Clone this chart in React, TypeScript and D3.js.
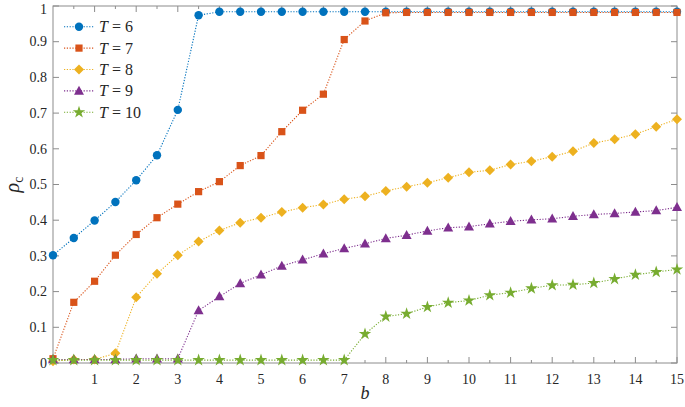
import React from "react";
import * as d3 from "d3";

const bValues = [0,0.5,1,1.5,2,2.5,3,3.5,4,4.5,5,5.5,6,6.5,7,7.5,8,8.5,9,9.5,10,10.5,11,11.5,12,12.5,13,13.5,14,14.5,15];
const seriesLabels = ["6", "7", "8", "9", "10"];
const t6 = [0.302,0.350,0.399,0.451,0.512,0.582,0.709,0.974,0.984,0.984,0.984,0.984,0.984,0.984,0.984,0.984,0.984,0.984,0.984,0.984,0.984,0.984,0.984,0.984,0.984,0.984,0.984,0.984,0.984,0.984,0.984];
const t7 = [0.012,0.170,0.229,0.302,0.360,0.407,0.445,0.480,0.508,0.553,0.581,0.648,0.708,0.753,0.906,0.958,0.981,0.982,0.982,0.982,0.982,0.982,0.982,0.982,0.982,0.982,0.982,0.982,0.982,0.982,0.982];
const t8 = [0.005,0.010,0.010,0.027,0.184,0.250,0.302,0.340,0.371,0.393,0.407,0.423,0.435,0.444,0.459,0.467,0.482,0.494,0.505,0.519,0.534,0.540,0.556,0.565,0.578,0.593,0.616,0.627,0.641,0.662,0.683];
const t9 = [0.010,0.010,0.010,0.010,0.012,0.012,0.012,0.147,0.186,0.223,0.247,0.272,0.289,0.306,0.321,0.334,0.349,0.358,0.370,0.379,0.382,0.390,0.397,0.401,0.404,0.411,0.416,0.419,0.423,0.427,0.436];
const t10 = [0.008,0.008,0.008,0.008,0.008,0.008,0.008,0.008,0.008,0.008,0.008,0.008,0.008,0.008,0.008,0.081,0.130,0.138,0.157,0.169,0.175,0.190,0.197,0.209,0.218,0.219,0.224,0.235,0.247,0.255,0.262];
const xTicks = [1,2,3,4,5,6,7,8,9,10,11,12,13,14,15];
const yTicks = [0,0.1,0.2,0.3,0.4,0.5,0.6,0.7,0.8,0.9,1];

const allSeries = [t6, t7, t8, t9, t10];
const colors = ["#0072BD", "#D95319", "#EDB120", "#7E2F8E", "#77AC30"];
const markers = ["circle", "square", "diamond", "triangle", "star"];

const W = 685, H = 407;
const M = { left: 53, right: 677, top: 6, bottom: 363 };

function Marker({ type, x, y, color }: { type: string; x: number; y: number; color: string }) {
  if (type === "circle") return <circle cx={x} cy={y} r={4.2} fill={color} />;
  if (type === "square") return <rect x={x - 3.6} y={y - 3.6} width={7.2} height={7.2} fill={color} />;
  if (type === "diamond") {
    const s = 5;
    return <path d={`M${x},${y - s}L${x + s},${y}L${x},${y + s}L${x - s},${y}Z`} fill={color} />;
  }
  if (type === "triangle") {
    const s = 5;
    return <path d={`M${x},${y - s * 1.05}L${x + s},${y + s * 0.75}L${x - s},${y + s * 0.75}Z`} fill={color} />;
  }
  const p = d3.symbol().type(d3.symbolStar).size(48)();
  return <path d={p || ""} transform={`translate(${x},${y})`} fill={color} />;
}

export default function App() {
  const x = d3.scaleLinear().domain([0, 15]).range([M.left, M.right]);
  const y = d3.scaleLinear().domain([0, 1]).range([M.bottom, M.top]);
  const line = d3.line<number>().x((_, i) => x(bValues[i])).y((d) => y(d));
  const minorX = d3.range(0.5, 15, 1);
  const axisColor = "#8c8c8c";
  const textColor = "#262626";
  const font = "Liberation Serif";

  return (
    <svg width={W} height={H} style={{ position: "absolute", left: 0, top: 0, background: "#fff" }}>
      <rect x={0} y={0} width={W} height={H} fill="#fff" />
      <rect x={M.left} y={M.top} width={M.right - M.left} height={M.bottom - M.top} fill="none" stroke={axisColor} strokeWidth={1} />
      {xTicks.map((t) => (
        <g key={"xt" + t}>
          <line x1={x(t)} x2={x(t)} y1={M.bottom} y2={M.bottom - 6} stroke={axisColor} />
          <line x1={x(t)} x2={x(t)} y1={M.top} y2={M.top + 6} stroke={axisColor} />
          <text x={x(t)} y={M.bottom + 21} textAnchor="middle" style={{ fontFamily: font }} fontSize={14} fill={textColor}>{t}</text>
        </g>
      ))}
      {minorX.map((t) => (
        <g key={"xm" + t}>
          <line x1={x(t)} x2={x(t)} y1={M.bottom} y2={M.bottom - 3} stroke={axisColor} />
          <line x1={x(t)} x2={x(t)} y1={M.top} y2={M.top + 3} stroke={axisColor} />
        </g>
      ))}
      {yTicks.map((t) => (
        <g key={"yt" + t}>
          <line x1={M.left} x2={M.left + 6} y1={y(t)} y2={y(t)} stroke={axisColor} />
          <line x1={M.right} x2={M.right - 6} y1={y(t)} y2={y(t)} stroke={axisColor} />
          <text x={M.left - 6} y={Math.max(y(t) + 4.7, 13.5)} textAnchor="end" style={{ fontFamily: font }} fontSize={14} fill={textColor}>{t}</text>
        </g>
      ))}
      {allSeries.map((s, si) => (
        <g key={"s" + si}>
          <path d={line(s) || ""} fill="none" stroke={colors[si]} strokeWidth={1.1} strokeDasharray="1.2,1.6" />
          {s.map((v, i) => (
            <Marker key={i} type={markers[si]} x={x(bValues[i])} y={y(v)} color={colors[si]} />
          ))}
        </g>
      ))}
      {seriesLabels.map((lab, i) => {
        const ly = 26.7 + i * 21.4;
        return (
          <g key={"lg" + i}>
            <line x1={64} x2={94} y1={ly} y2={ly} stroke={colors[i]} strokeWidth={1.1} strokeDasharray="1.2,1.6" />
            <Marker type={markers[i]} x={79} y={ly} color={colors[i]} />
            <text x={99} y={ly + 5.5} style={{ fontFamily: font }} fontSize={16} fill={textColor}>
              <tspan fontStyle="italic">T</tspan>
              <tspan> = {lab}</tspan>
            </text>
          </g>
        );
      })}
      <text x={(M.left + M.right) / 2} y={399} textAnchor="middle" style={{ fontFamily: font }} fontSize={18} fontStyle="italic" fill={textColor}>b</text>
      <text transform={`translate(19,${(M.top + M.bottom) / 2}) rotate(-90)`} textAnchor="middle" style={{ fontFamily: font }} fontSize={20} fill={textColor}>
        <tspan fontStyle="italic">ρ</tspan>
        <tspan fontSize={14} dy={4}>c</tspan>
      </text>
    </svg>
  );
}
